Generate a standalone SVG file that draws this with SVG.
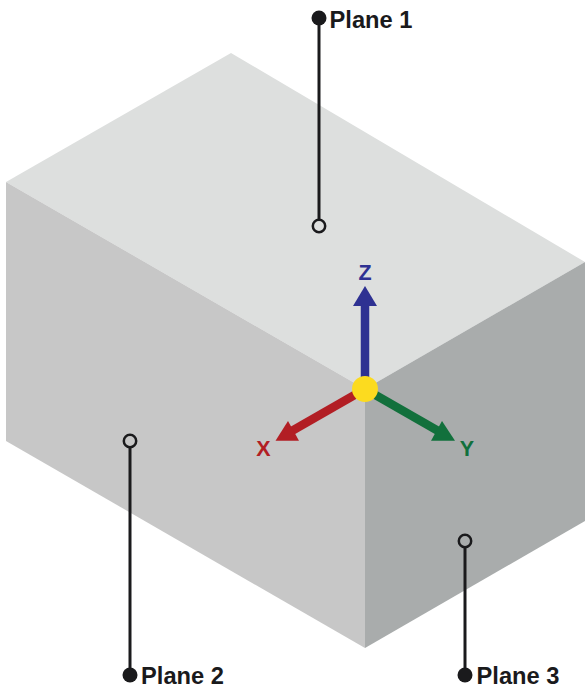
<svg xmlns="http://www.w3.org/2000/svg" width="585" height="691" viewBox="0 0 585 691">
<style>
.lead{stroke:#1a1a1c;stroke-width:3;fill:none}
.open{stroke:#1a1a1c;stroke-width:2.5}
.dot{fill:#1a1a1c}
.plane{font:bold 23.7px "Liberation Sans",Arial,sans-serif;fill:#1a1a1c}
.axis{font:bold 21.5px "Liberation Sans",Arial,sans-serif;text-anchor:middle}
</style>
<rect width="585" height="691" fill="#fff"/>
<g id="box">
<polygon id="face-top" points="231,53 585,262 365,389 6,182" fill="#dddfde"/>
<polygon id="face-left" points="6,182 365,389 365,648 6,441" fill="#c7c7c7"/>
<polygon id="face-right" points="365,389 585,262 585,521 365,648" fill="#a9acac"/>
</g>
<g id="connectors">
<line class="lead" x1="319" y1="18" x2="319" y2="220"/>
<line class="lead" x1="130" y1="446" x2="130" y2="675"/>
<line class="lead" x1="465" y1="547" x2="465" y2="675"/>
</g>
<g id="plane-1">
<circle class="dot" cx="319" cy="18" r="7.5"/>
<circle class="open" cx="319" cy="226" r="6.2" fill="#dddfde"/>
<text class="plane" x="329.5" y="28">Plane 1</text>
</g>
<g id="plane-2">
<circle class="dot" cx="130" cy="675" r="7.5"/>
<circle class="open" cx="130" cy="441" r="6.2" fill="#c7c7c7"/>
<text class="plane" x="141" y="684">Plane 2</text>
</g>
<g id="plane-3">
<circle class="dot" cx="465" cy="675" r="7.5"/>
<circle class="open" cx="465" cy="541" r="6.2" fill="#a9acac"/>
<text class="plane" x="476.5" y="684">Plane 3</text>
</g>
<g id="axis-z">
<line x1="365" y1="389" x2="365" y2="304" stroke="#2e3192" stroke-width="8.5"/>
<polygon points="365,286 377,306 353,306" fill="#2e3192"/>
<text class="axis" x="365" y="280" fill="#2e3192">Z</text>
</g>
<g id="axis-x">
<line x1="365" y1="389" x2="290" y2="432" stroke="#b21e24" stroke-width="8.5"/>
<polygon points="275.5,440.7 288,421 299,440.7" fill="#b21e24"/>
<text class="axis" x="263.5" y="456" fill="#b21e24">X</text>
</g>
<g id="axis-y">
<line x1="365" y1="389" x2="440" y2="432" stroke="#12703c" stroke-width="8.5"/>
<polygon points="455,440.7 442,421 431,440.7" fill="#12703c"/>
<text class="axis" x="467" y="456" fill="#12703c">Y</text>
</g>
<g id="origin"><circle cx="365" cy="389" r="13" fill="#fcdb1f"/></g>
</svg>
